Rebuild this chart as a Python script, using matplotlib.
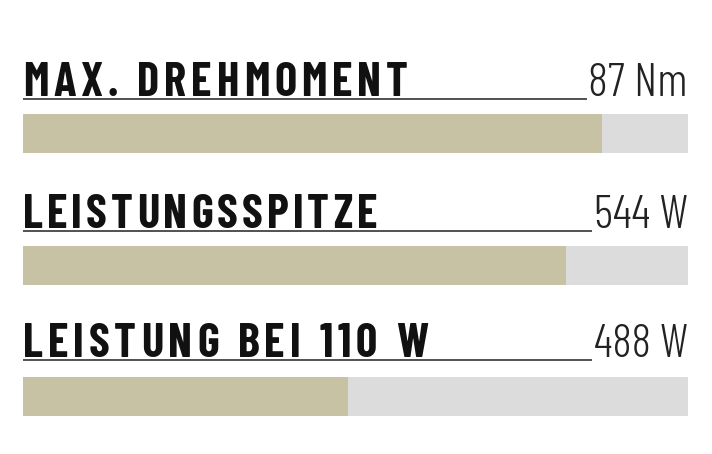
import matplotlib
matplotlib.use('Agg')
import matplotlib.pyplot as plt
from matplotlib import font_manager

# data
labels = ['MAX. DREHMOMENT', 'LEISTUNGSSPITZE', 'LEISTUNG BEI 110 W']
values = [87, 544, 488]
units = ['Nm', 'W', 'W']
scale_max = [100, 666, 1000]

tan = '#c8c2a4'
grey = '#dcdcdc'
ink = '#111111'

# narrow DIN-like font if there is one
names = {f.name for f in font_manager.fontManager.ttflist}
family = 'DejaVu Sans'
for c in ['Barlow Condensed', 'Roboto Condensed', 'Liberation Sans Narrow']:
    if c in names:
        family = c
        break

W, H = 712, 454
fig = plt.figure(figsize=(W / 100, H / 100), dpi=100)
ov = fig.add_axes([0, 0, 1, 1])
ov.set_xlim(0, W)
ov.set_ylim(H, 0)
ov.axis('off')
renderer = fig.canvas.get_renderer()


def measure(s, size, weight):
    prop = font_manager.FontProperties(family=family, size=size, weight=weight)
    w, h, d = renderer.get_text_width_height_descent(s, prop, ismath=False)
    return w, h - d


# layout (pixels)
left, right = 23, 688
baselines = [96, 228, 357]
bar_tops = [114, 246, 377]
bar_h = 39
title_w = [385, 354, 405]
value_w = [88, 82, 82]
cap = 33
title_weight = 700
value_weight = 300


def spaced_title(x0, y, s, target_w):
    n = len(s)
    cap100 = measure('H', 100, title_weight)[1]
    natural = measure(s, 100, title_weight)[0]
    size = 100 * cap / cap100
    # keep at least a small gap between letters
    min_gap = 0.06 * size * 100 / 72
    if size / 100 * natural + (n - 1) * min_gap > target_w:
        size = target_w / (natural / 100 + (n - 1) * 0.06 * 100 / 72)
    gap = (target_w - size / 100 * natural) / (n - 1)
    ref = measure('I', 100, title_weight)[0]
    for i, ch in enumerate(s):
        if ch == ' ':
            continue
        off = 0 if i == 0 else measure(s[:i] + 'I', 100, title_weight)[0] - ref
        ov.text(x0 + size / 100 * off + i * gap, y, ch, family=family,
                weight=title_weight, size=size, color=ink, ha='left', va='baseline')


for i in range(len(labels)):
    spaced_title(left, baselines[i], labels[i], title_w[i])

    txt = f'{values[i]} {units[i]}'
    cap100 = measure('H', 100, value_weight)[1]
    w100 = measure(txt, 100, value_weight)[0]
    size = min(100 * cap / cap100, 100 * value_w[i] * 1.15 / w100)
    ov.text(right, baselines[i], txt, family=family, size=size, weight=value_weight,
            color='#222222', ha='right', va='baseline')
    vleft = right - measure(txt, size, value_weight)[0]
    ov.plot([left, vleft - 2], [baselines[i] + 2.5] * 2, color='#222222', lw=1.1,
            solid_capstyle='butt')

    ax = fig.add_axes([left / W, 1 - (bar_tops[i] + bar_h) / H,
                       (right - left) / W, bar_h / H])
    ax.barh(0, scale_max[i], height=1, color=grey, edgecolor='none')
    ax.barh(0, values[i], height=1, color=tan, edgecolor='none')
    ax.set_xlim(0, scale_max[i])
    ax.set_ylim(-0.5, 0.5)
    ax.axis('off')

fig.savefig('out.png', dpi=100)
